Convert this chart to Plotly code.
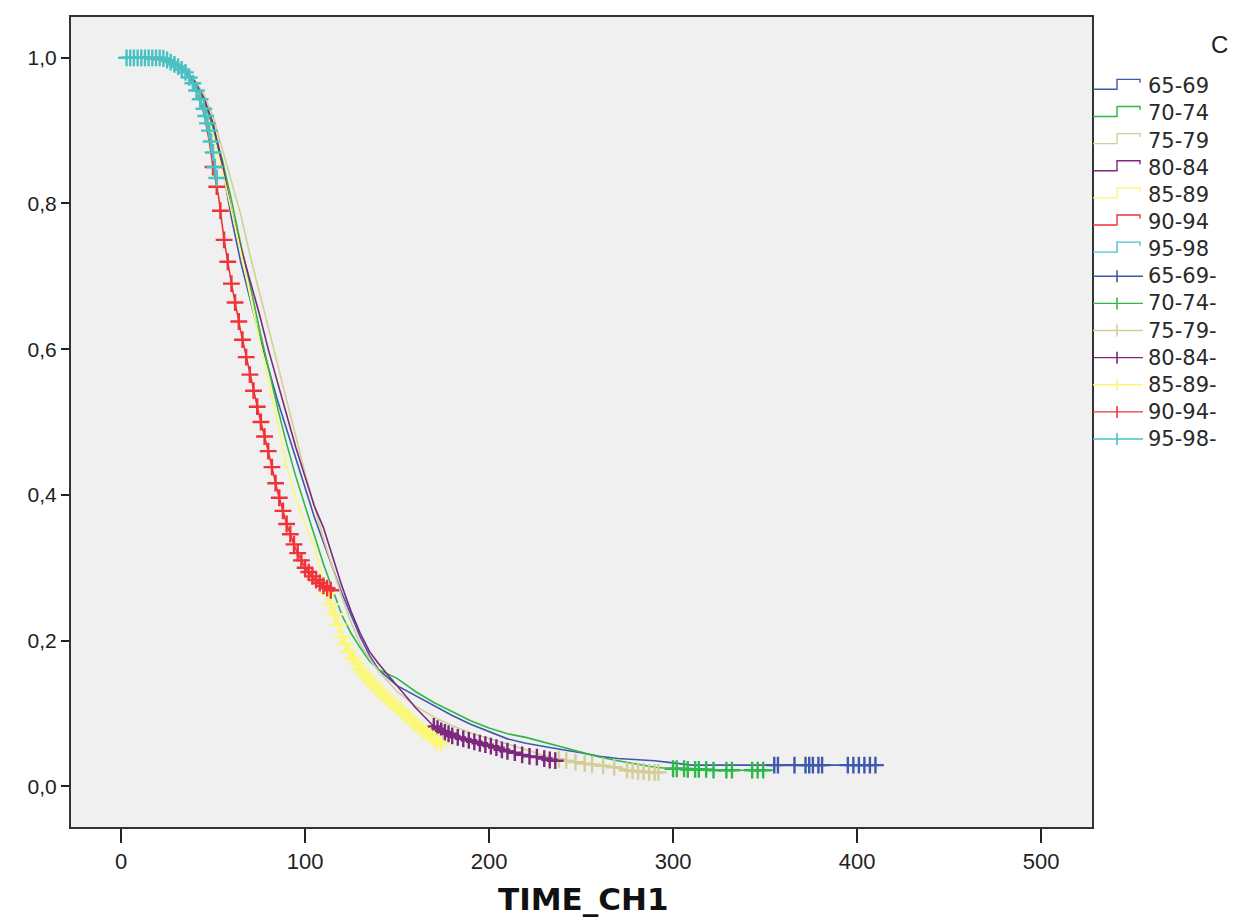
import plotly.graph_objects as go

# ---- data ----
groups = ["65-69", "70-74", "75-79", "80-84", "85-89", "90-94", "95-98"]
colors = ["#3E58AC", "#2EB848", "#D3CE97", "#7C287D", "#FBF873", "#EF3338", "#48C2C5"]

t_6569 = [0, 10, 20, 30, 35, 40, 45, 50, 55, 60, 65, 70, 75, 80, 85, 90, 95, 100, 105, 110,
          115, 120, 125, 130, 135, 140, 150, 160, 170, 180, 190, 200, 210, 220, 230, 240, 250, 260, 270, 280,
          290, 300, 310, 414]
s_6569 = [1.0, 1.0, 0.997, 0.99, 0.98, 0.965, 0.94, 0.905, 0.85, 0.78, 0.72, 0.67, 0.62, 0.575, 0.53, 0.49, 0.45, 0.41, 0.37, 0.335,
          0.30, 0.265, 0.235, 0.205, 0.18, 0.16, 0.138, 0.124, 0.11, 0.097, 0.085, 0.075, 0.065, 0.059, 0.054, 0.05, 0.046, 0.041, 0.038, 0.037,
          0.035, 0.032, 0.029, 0.029]

t_7074 = [0, 10, 20, 30, 35, 40, 45, 50, 55, 60, 65, 70, 75, 80, 85, 90, 95, 100, 105, 110,
          115, 120, 125, 130, 135, 140, 150, 160, 170, 180, 190, 200, 210, 220, 230, 240, 250, 260, 270, 280,
          290, 300, 320, 330, 355]
s_7074 = [1.0, 1.0, 0.997, 0.99, 0.98, 0.965, 0.94, 0.905, 0.86, 0.805, 0.745, 0.69, 0.63, 0.575, 0.52, 0.47, 0.425, 0.385, 0.345, 0.305,
          0.27, 0.235, 0.21, 0.19, 0.172, 0.16, 0.148, 0.13, 0.115, 0.102, 0.09, 0.08, 0.072, 0.067, 0.06, 0.054, 0.047, 0.04, 0.035, 0.03,
          0.026, 0.024, 0.023, 0.022, 0.022]

t_7579 = [0, 10, 20, 30, 35, 40, 45, 50, 55, 60, 65, 70, 75, 80, 85, 90, 95, 100, 105, 110,
          115, 120, 125, 130, 135, 140, 150, 160, 170, 180, 190, 200, 210, 220, 230, 240, 250, 260, 270, 280, 292]
s_7579 = [1.0, 1.0, 0.998, 0.992, 0.983, 0.97, 0.95, 0.92, 0.875, 0.83, 0.785, 0.73, 0.68, 0.63, 0.58, 0.53, 0.48, 0.43, 0.385, 0.34,
          0.30, 0.26, 0.225, 0.195, 0.175, 0.158, 0.13, 0.11, 0.095, 0.083, 0.073, 0.066, 0.058, 0.05, 0.042, 0.036, 0.032, 0.029, 0.025, 0.021, 0.019]

t_8084 = [0, 10, 20, 30, 35, 40, 45, 50, 55, 58, 60, 65, 70, 75, 80, 85, 90, 95, 100, 105,
          110, 115, 120, 125, 130, 135, 140, 145, 150, 155, 160, 165, 170, 175, 180, 190, 200, 210, 220, 230, 237]
s_8084 = [1.0, 1.0, 0.998, 0.99, 0.982, 0.968, 0.945, 0.91, 0.855, 0.815, 0.79, 0.74, 0.695, 0.65, 0.60, 0.555, 0.51, 0.465, 0.425, 0.385,
          0.355, 0.315, 0.275, 0.24, 0.21, 0.185, 0.168, 0.153, 0.138, 0.122, 0.108, 0.095, 0.082, 0.075, 0.069, 0.061, 0.054, 0.048, 0.042, 0.038, 0.035]

t_8589 = [0, 10, 20, 30, 35, 40, 45, 50, 55, 60, 65, 70, 75, 80, 85, 90, 95, 100, 105, 110,
          113, 120, 125, 130, 135, 140, 145, 150, 155, 160, 165, 170, 174]
s_8589 = [1.0, 1.0, 0.997, 0.99, 0.978, 0.96, 0.935, 0.895, 0.845, 0.79, 0.735, 0.675, 0.615, 0.555, 0.50, 0.44, 0.395, 0.36, 0.33, 0.28,
          0.255, 0.205, 0.18, 0.16, 0.145, 0.132, 0.12, 0.108, 0.097, 0.085, 0.075, 0.065, 0.058]

t_9094 = [0, 10, 20, 30, 35, 40, 45, 48, 50, 53, 56, 60, 65, 70, 75, 80, 85, 90, 95, 100, 105, 110, 115]
s_9094 = [1.0, 1.0, 0.998, 0.99, 0.98, 0.96, 0.925, 0.885, 0.85, 0.81, 0.75, 0.69, 0.625, 0.565, 0.51, 0.46, 0.405, 0.36, 0.325, 0.30, 0.285, 0.275, 0.268]

t_9598 = [0, 10, 20, 25, 30, 35, 40, 45, 48, 50, 52]
s_9598 = [1.0, 1.0, 1.0, 0.997, 0.99, 0.98, 0.96, 0.93, 0.9, 0.87, 0.83]

# censored cases
ct_6569 = [355, 357, 366, 372, 374, 376, 379, 381, 395, 398, 401, 404, 407, 410]
cs_6569 = [0.029] * 14
ct_7074 = [300, 302, 306, 308, 312, 314, 318, 322, 329, 332, 343, 346, 349]
cs_7074 = [0.024, 0.024, 0.024, 0.023, 0.023, 0.023, 0.023, 0.022, 0.022, 0.022, 0.022, 0.022, 0.022]
ct_7579 = [238, 242, 247, 252, 256, 262, 268, 275, 278, 281, 284, 287, 290, 292]
cs_7579 = [0.037, 0.035, 0.033, 0.031, 0.03, 0.028, 0.026, 0.022, 0.021, 0.02, 0.02, 0.019, 0.019, 0.019]
ct_8084 = [170, 172, 174, 176, 178, 180, 183, 186, 189, 192, 195, 198, 201, 204, 207, 210,
           214, 218, 222, 226, 230, 233, 236]
cs_8084 = [0.082, 0.079, 0.076, 0.074, 0.072, 0.069, 0.067, 0.065, 0.063, 0.061, 0.059, 0.057, 0.055, 0.053, 0.05, 0.048,
           0.046, 0.043, 0.041, 0.04, 0.038, 0.036, 0.035]
ct_8589 = [112, 114, 116, 118, 120, 122, 124, 126, 128, 130, 132, 134, 136, 138, 140, 142,
           144, 146, 148, 150, 152, 154, 156, 158, 160, 162, 164, 166, 168, 170, 172, 174]
cs_8589 = [0.265, 0.25, 0.236, 0.222, 0.205, 0.195, 0.185, 0.176, 0.168, 0.16, 0.154, 0.148, 0.142, 0.137, 0.132, 0.127,
           0.122, 0.118, 0.113, 0.108, 0.104, 0.099, 0.095, 0.09, 0.085, 0.081, 0.077, 0.073, 0.069, 0.065, 0.061, 0.058]
ct_9094 = [50, 52, 54, 56, 58, 60, 62, 64, 66, 68, 70, 72, 74, 76, 78, 80, 82,
           84, 86, 88, 90, 92, 94, 96, 98, 100, 102, 104, 106, 108, 110, 112, 114]
cs_9094 = [0.85, 0.823, 0.79, 0.75, 0.72, 0.69, 0.664, 0.638, 0.613, 0.589, 0.565, 0.543, 0.521, 0.50, 0.48, 0.46, 0.438,
           0.416, 0.396, 0.378, 0.36, 0.346, 0.332, 0.32, 0.31, 0.30, 0.294, 0.288, 0.283, 0.279, 0.275, 0.272, 0.269]
ct_9598 = [3, 5, 7, 9, 11, 13, 15, 17, 19, 21, 23, 25, 27, 29, 31, 33, 35, 37, 39, 41, 43, 45,
           46, 47, 48, 49, 50, 51, 52]
cs_9598 = [1.0, 1.0, 1.0, 1.0, 1.0, 1.0, 1.0, 1.0, 1.0, 1.0, 0.999, 0.997, 0.994, 0.991, 0.988, 0.984, 0.98, 0.973, 0.965, 0.955, 0.943, 0.93,
           0.92, 0.91, 0.9, 0.885, 0.87, 0.85, 0.835]

curves = [(t_6569, s_6569), (t_7074, s_7074), (t_7579, s_7579), (t_8084, s_8084),
          (t_8589, s_8589), (t_9094, s_9094), (t_9598, s_9598)]
censored = [(ct_6569, cs_6569), (ct_7074, cs_7074), (ct_7579, cs_7579), (ct_8084, cs_8084),
            (ct_8589, cs_8589), (ct_9094, cs_9094), (ct_9598, cs_9598)]

# the page body has an 8px margin, so the figure is drawn 8px in from the corner
OFF = 8
W, H = 1242 - OFF, 918 - OFF
L, R, T, B = 71 - OFF, 1092 - OFF, 15 - OFF, 827 - OFF   # plot area in figure pixels


def px(x):
    # screen x (as in the reference) -> paper
    return (x - OFF - L) / (R - L)


def py(y):
    return (B - (y - OFF)) / (B - T)


fig = go.Figure()

for name, col, (t, s) in zip(groups, colors, curves):
    fig.add_trace(go.Scatter(x=t, y=s, mode="lines", name=name,
                             line=dict(color=col, width=1.6), showlegend=False))

for name, col, (t, s) in zip(groups, colors, censored):
    fig.add_trace(go.Scatter(x=t, y=s, mode="markers", name=name + "-censored",
                             marker=dict(symbol="cross-thin-open", size=12, color=col,
                                         line=dict(color=col, width=2.4)),
                             showlegend=False))

# legend drawn by hand (SPSS style: step icons and censor ticks)
shapes = []
annotations = []
row_h = 27.2
y0 = 84.5
leg_font = dict(family="DejaVu Sans", size=21, color="#2a2a2a")
for i, (name, col) in enumerate(zip(groups, colors)):
    yc = y0 + row_h * i
    path = "M {},{} L {},{} L {},{} L {},{} L {},{}".format(
        px(1093), py(yc + 3), px(1117), py(yc + 3), px(1117), py(yc - 7),
        px(1140), py(yc - 7), px(1140), py(yc - 3.5))
    shapes.append(dict(type="path", path=path, xref="paper", yref="paper",
                       line=dict(color=col, width=1.4)))
    annotations.append(dict(x=px(1146), y=py(yc), xref="paper", yref="paper",
                            text=name, showarrow=False, xanchor="left", yanchor="middle",
                            font=leg_font))
for i, (name, col) in enumerate(zip(groups, colors)):
    yc = y0 + row_h * (i + 7)
    shapes.append(dict(type="line", xref="paper", yref="paper",
                       x0=px(1093), x1=px(1143), y0=py(yc), y1=py(yc),
                       line=dict(color=col, width=1.4)))
    shapes.append(dict(type="line", xref="paper", yref="paper",
                       x0=px(1117), x1=px(1117), y0=py(yc - 6), y1=py(yc + 6),
                       line=dict(color=col, width=1.6)))
    annotations.append(dict(x=px(1146), y=py(yc), xref="paper", yref="paper",
                            text=name + "-", showarrow=False, xanchor="left", yanchor="middle",
                            font=leg_font))

annotations.append(dict(x=px(1209), y=py(43), xref="paper", yref="paper", text="C",
                        showarrow=False, xanchor="left", yanchor="middle",
                        font=dict(family="Liberation Sans, Arial", size=24, color="#222")))
annotations.append(dict(x=px(583), y=py(899), xref="paper", yref="paper", text="<b>TIME_CH1</b>",
                        showarrow=False, xanchor="center", yanchor="middle",
                        font=dict(family="DejaVu Sans", size=31, color="#111")))

fig.update_layout(
    width=W, height=H,
    margin=dict(l=L, r=W - R, t=T, b=H - B, pad=0),
    paper_bgcolor="white",
    plot_bgcolor="#F0F0F0",
    separators=",.",
    font=dict(family="Liberation Sans, Arial", color="#222"),
    shapes=shapes,
    annotations=annotations,
)
fig.update_xaxes(range=[-27.2, 527.7], tickvals=[0, 100, 200, 300, 400, 500],
                 showgrid=False, zeroline=False, showline=True, mirror=True,
                 linecolor="#333", linewidth=2, ticks="outside", ticklen=14, tickwidth=2,
                 tickcolor="#222", tickfont=dict(size=22, color="#222"))
fig.update_yaxes(range=[-0.056, 1.056], tickvals=[0, 0.2, 0.4, 0.6, 0.8, 1.0], tickformat=".1f",
                 showgrid=False, zeroline=False, showline=True, mirror=True,
                 linecolor="#333", linewidth=2, ticks="outside", ticklen=8, tickwidth=2,
                 tickcolor="#222", tickfont=dict(size=21, color="#222"))

fig.write_html("out.html")
